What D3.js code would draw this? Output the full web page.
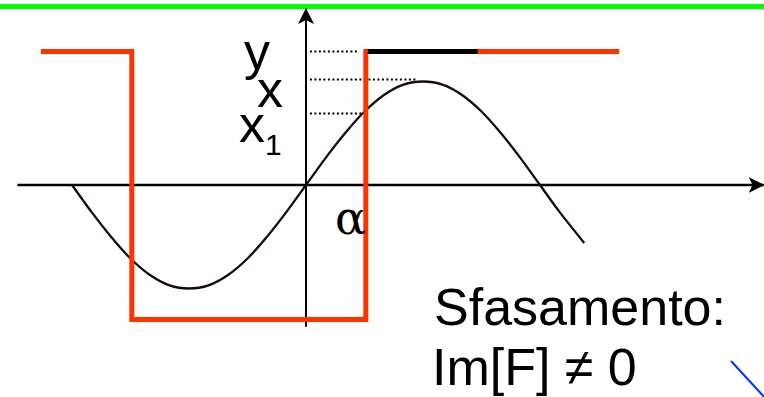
<!DOCTYPE html>
<html>
<head>
<meta charset="utf-8">
<script src="https://cdn.jsdelivr.net/npm/d3@7"></script>
<style>
  body { margin: 0; background: #fff; }
  text { font-family: "Liberation Sans", Arial, sans-serif; }
</style>
</head>
<body>
<svg id="chart"></svg>
<script>
const width = 764, height = 397;

// hand drawn response curve (phase in degrees, amplitude)
const curveDeg = [-180, -165, -150, -135, -120, -105, -90, -75, -60, -45, -30, -15, 0, 15, 30, 45, 60, 75, 90, 105, 120, 135, 150, 165, 180, 195, 214];
const curveVal = [0, -0.26, -0.5, -0.71, -0.87, -0.97, -1, -0.97, -0.87, -0.71, -0.5, -0.26, 0, 0.26, 0.5, 0.71, 0.87, 0.97, 1, 0.97, 0.87, 0.71, 0.5, 0.26, 0, -0.26, -0.56];

// square wave (relay output)
const waveDeg = [-202, -134, -134, 46, 46, 239];
const waveVal = [1.29, 1.29, -1.3, -1.3, 1.29, 1.29];

// black part of the upper level
const blackDeg = [46, 132];

// dotted levels y, x, x1
const levelVal = [1.29, 1.02, 0.69];
const levelEnd = [40, 86, 43];

const svg = d3.select("#chart")
    .attr("width", width)
    .attr("height", height);

const x = d3.scaleLinear().domain([0, 180]).range([306, 540]);
const y = d3.scaleLinear().domain([-1, 1]).range([288.5, 81.5]);

// arrow heads
const defs = svg.append("defs");
defs.append("marker")
    .attr("id", "arrow")
    .attr("viewBox", "0 0 16 16")
    .attr("refX", 15).attr("refY", 8)
    .attr("markerWidth", 16).attr("markerHeight", 16)
    .attr("markerUnits", "userSpaceOnUse")
    .attr("orient", "auto")
    .append("path")
    .attr("d", "M0,0 L16,8 L0,16 L4,8 Z")
    .attr("fill", "#000");

// green line at the top
svg.append("line")
    .attr("x1", 0).attr("x2", width)
    .attr("y1", 6.5).attr("y2", 6.5)
    .attr("stroke", "#00ff00")
    .attr("stroke-width", 5);

// axes
svg.append("line")
    .attr("x1", x(-222)).attr("x2", x(352))
    .attr("y1", y(0)).attr("y2", y(0))
    .attr("stroke", "#000")
    .attr("stroke-width", 2.5)
    .attr("marker-end", "url(#arrow)");

svg.append("line")
    .attr("x1", x(0)).attr("x2", x(0))
    .attr("y1", y(-1.37)).attr("y2", y(1.7))
    .attr("stroke", "#000")
    .attr("stroke-width", 2)
    .attr("marker-end", "url(#arrow)");

// dotted levels
svg.selectAll(".level")
    .data(levelVal)
    .join("line")
    .attr("class", "level")
    .attr("x1", x(3)).attr("x2", (d, i) => x(levelEnd[i]))
    .attr("y1", d => y(d)).attr("y2", d => y(d))
    .attr("stroke", "#000")
    .attr("stroke-width", 2)
    .attr("stroke-dasharray", "2,2.5");

// sine curve
const line = d3.line()
    .x(d => x(d[0]))
    .y(d => y(d[1]))
    .curve(d3.curveCardinal.tension(0.2));

svg.append("path")
    .datum(curveDeg.map((d, i) => [d, curveVal[i]]))
    .attr("d", line)
    .attr("fill", "none")
    .attr("stroke", "#1a0a0a")
    .attr("stroke-width", 2.3);

// square wave
svg.append("path")
    .datum(waveDeg.map((d, i) => [d, waveVal[i]]))
    .attr("d", d3.line().x(d => x(d[0])).y(d => y(d[1])))
    .attr("fill", "none")
    .attr("stroke", "#ff3300")
    .attr("stroke-width", 5)
    .attr("stroke-linecap", "square");

svg.append("line")
    .attr("x1", x(blackDeg[0]) + 2).attr("x2", x(blackDeg[1]))
    .attr("y1", y(1.29)).attr("y2", y(1.29))
    .attr("stroke", "#000")
    .attr("stroke-width", 5);

// labels
svg.append("text").attr("x", 244).attr("y", 69)
    .attr("font-size", 52).text("y");
svg.append("text").attr("x", 257).attr("y", 107)
    .attr("font-size", 52).text("x");
const x1 = svg.append("text").attr("x", 239).attr("y", 142)
    .attr("font-size", 52).text("x");
x1.append("tspan").attr("dy", 13).attr("font-size", 30).text("1");

svg.append("text").attr("x", 335).attr("y", 234)
    .style("font-family", "'DejaVu Serif', 'Liberation Serif', serif")
    .attr("font-size", 46).text("α");

svg.append("text").attr("x", 434).attr("y", 325)
    .attr("font-size", 52).text("Sfasamento:");
svg.append("text").attr("x", 432).attr("y", 385)
    .attr("font-size", 52).text("Im[F] ≠ 0");

// blue stroke at the corner
svg.append("line")
    .attr("x1", 731).attr("y1", 361)
    .attr("x2", 766).attr("y2", 399)
    .attr("stroke", "#0033ff")
    .attr("stroke-width", 2);
</script>
</body>
</html>
